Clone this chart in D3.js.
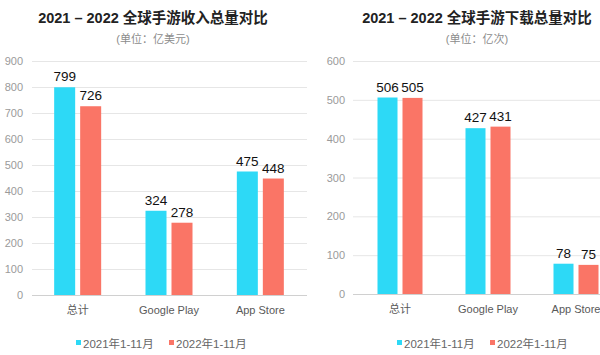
<!DOCTYPE html>
<html><head><meta charset="utf-8">
<script src="https://cdn.jsdelivr.net/npm/d3@7"></script>
<style>body{margin:0;background:#fff}svg{display:block}text{font-family:"Liberation Sans",Arial,"Noto Sans CJK SC",sans-serif}</style>
</head><body><svg id="c" width="600" height="355"></svg>
<script>
const categories = ["总计", "Google Play", "App Store"];
const seriesNames = ["2021年1-11月", "2022年1-11月"];
const revenue2021 = [799, 324, 475];
const revenue2022 = [726, 278, 448];
const downloads2021 = [506, 427, 78];
const downloads2022 = [505, 431, 75];
const revenueTicks = [0,100,200,300,400,500,600,700,800,900];
const downloadTicks = [0,100,200,300,400,500,600];
const titles = ["2021 – 2022 全球手游收入总量对比", "2021 – 2022 全球手游下载总量对比"];
const subtitles = ["(单位：亿美元)", "(单位：亿次)"];
const colors = ["#2DD9F6", "#FA7566"];

const svg = d3.select("#c");
const mixed = '"Liberation Sans",Arial,"Noto Sans CJK SC",sans-serif';

function panel(cfg){
  const g = svg.append("g");
  g.append("text").attr("x", cfg.tx).attr("y", 23).attr("text-anchor","middle")
    .attr("font-size",14.5).attr("font-weight","bold").attr("fill","#222").style("font-family",mixed).text(cfg.title);
  g.append("text").attr("x", cfg.tx).attr("y", 43).attr("text-anchor","middle")
    .attr("font-size",11).attr("fill","#8c8c8c").style("font-family",mixed).text(cfg.sub);
  const y = d3.scaleLinear().domain([0, d3.max(cfg.ticks)]).range([cfg.y0, 61]);
  const x = d3.scaleBand().domain(categories).range(cfg.xr).paddingInner(0).paddingOuter(0);
  const grid = g.append("g");
  grid.selectAll("line").data(cfg.ticks).join("line")
    .attr("x1", cfg.gx0).attr("x2", cfg.gx1).attr("y1", d=>y(d)+0.5).attr("y2", d=>y(d)+0.5)
    .attr("stroke", d=> d===0 ? "#d0d0d0" : "#e6e6e6").attr("stroke-width",1);
  const ax = d3.axisLeft(y).tickValues(cfg.ticks).tickSize(0).tickPadding(0);
  const axg = g.append("g").attr("transform",`translate(${cfg.ax},0)`).call(ax);
  axg.select(".domain").remove();
  axg.selectAll("text").attr("font-size",11).attr("fill","#9a9a9a").style("font-family",mixed);
  const bw = cfg.bw, gap = cfg.gap;
  const series = [cfg.a, cfg.b];
  series.forEach((vals, si) => {
    const off = si===0 ? -(bw + gap/2) : gap/2;
    g.append("g").selectAll("rect").data(vals).join("rect")
      .attr("x", (d,i)=> x(categories[i]) + x.bandwidth()/2 + off)
      .attr("width", bw)
      .attr("y", d=>y(d)).attr("height", d=>cfg.y0 - y(d))
      .attr("fill", colors[si]);
    g.append("g").selectAll("text").data(vals).join("text")
      .attr("x", (d,i)=> x(categories[i]) + x.bandwidth()/2 + off + bw/2)
      .attr("y", d=>y(d) - 6)
      .attr("text-anchor","middle").attr("font-size",13.5).attr("fill","#111").style("font-family",mixed).text(d=>d);
  });
  const xa = d3.axisBottom(x).tickSize(0).tickPadding(11);
  const xg = g.append("g").attr("transform",`translate(0,${cfg.y0})`).call(xa);
  xg.select(".domain").remove();
  xg.selectAll("text").attr("font-size",11).attr("fill","#595959").style("font-family",mixed);
  const lg = g.append("g");
  seriesNames.forEach((n,i)=>{
    const lx = cfg.lx + i*93;
    lg.append("rect").attr("x",lx).attr("y",340).attr("width",5).attr("height",5).attr("fill",colors[i]);
    lg.append("text").attr("x",lx+7).attr("y",347.5).attr("font-size",11.5).attr("fill","#666").style("font-family",mixed).text(n);
  });
}

panel({title:titles[0], sub:subtitles[0], tx:153, ticks:revenueTicks, y0:295, xr:[32,306], gx0:32, gx1:307, ax:23, bw:21, gap:5, a:revenue2021, b:revenue2022, lx:76});
panel({title:titles[1], sub:subtitles[1], tx:477, ticks:downloadTicks, y0:294, xr:[356,620], gx0:353, gx1:600, ax:345, bw:20, gap:5, a:downloads2021, b:downloads2022, lx:397});
</script></body></html>
